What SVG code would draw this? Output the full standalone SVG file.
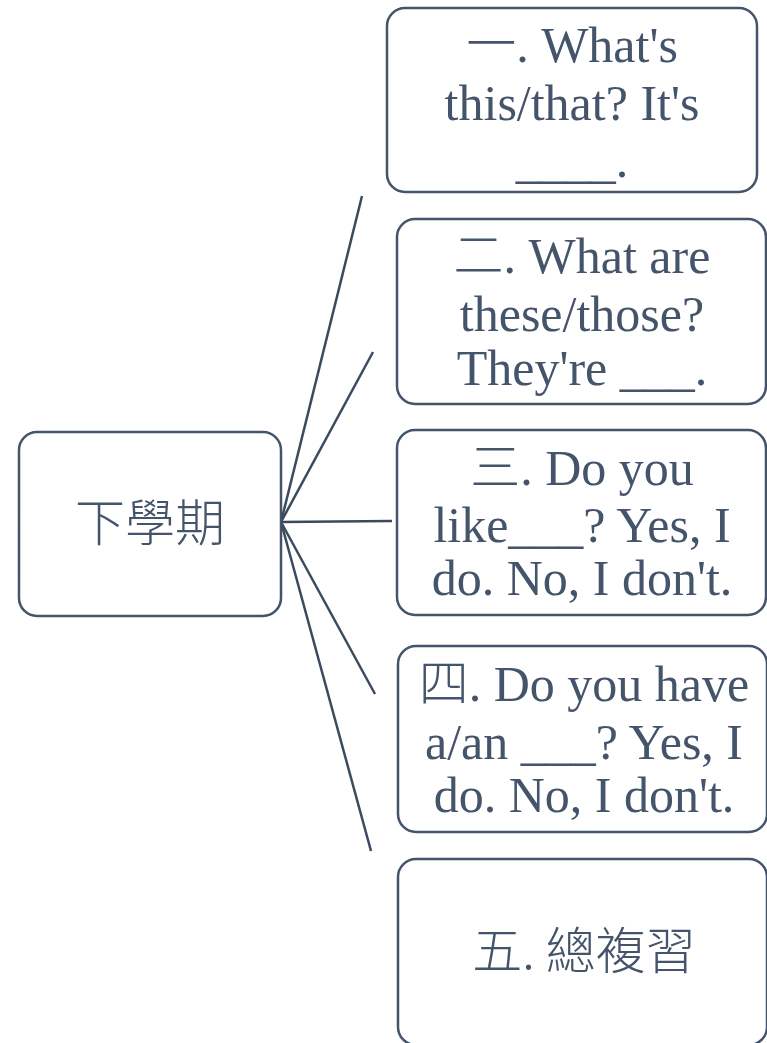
<svg xmlns="http://www.w3.org/2000/svg" width="767" height="1043" viewBox="0 0 767 1043">
<style>
.box{fill:#fff;stroke:#44546a;stroke-width:2.5}
.t{font-family:"Liberation Serif","Noto Sans CJK TC",serif;font-size:50px;fill:#44546a;text-anchor:middle}
.c{font-family:"Noto Sans CJK TC","Liberation Serif",sans-serif;font-weight:300}
.conn{stroke:#3b4a5e;stroke-width:2.5;fill:none}
</style>
<rect width="767" height="1043" fill="#fff"/>
<g id="connectors">
<line class="conn" x1="281" y1="522" x2="362" y2="196"/>
<line class="conn" x1="281" y1="522" x2="373" y2="352"/>
<line class="conn" x1="281" y1="522" x2="392" y2="521"/>
<line class="conn" x1="281" y1="522" x2="375" y2="694"/>
<line class="conn" x1="281" y1="522" x2="371" y2="851"/>
</g>
<g id="root">
<rect class="box" x="19" y="432" width="262" height="184" rx="18"/>
<text class="t c" x="150" y="541">下學期</text>
</g>
<g id="n1">
<rect class="box" x="387" y="8" width="370" height="184" rx="18"/>
<text class="t" x="572" y="62"><tspan class="c">一</tspan>. What's</text>
<text class="t" x="572" y="120">this/that? It's</text>
<text class="t" x="572" y="177">____.</text>
</g>
<g id="n2">
<rect class="box" x="397" y="219" width="369" height="185" rx="18"/>
<text class="t" x="582" y="273"><tspan class="c">二</tspan>. What are</text>
<text class="t" x="582" y="331">these/those?</text>
<text class="t" x="582" y="385">They're ___.</text>
</g>
<g id="n3">
<rect class="box" x="397" y="430" width="369" height="185" rx="18"/>
<text class="t" x="582" y="485"><tspan class="c">三</tspan>. Do you</text>
<text class="t" x="582" y="542">like___? Yes, I</text>
<text class="t" x="582" y="595">do. No, I don't.</text>
</g>
<g id="n4">
<rect class="box" x="398" y="646" width="369" height="186" rx="18"/>
<text class="t" x="584" y="701"><tspan class="c">四</tspan>. Do you have</text>
<text class="t" x="584" y="759">a/an ___? Yes, I</text>
<text class="t" x="584" y="812">do. No, I don't.</text>
</g>
<g id="n5">
<rect class="box" x="398" y="859" width="369" height="186" rx="18"/>
<text class="t c" x="584" y="969">五. 總複習</text>
</g>
</svg>
